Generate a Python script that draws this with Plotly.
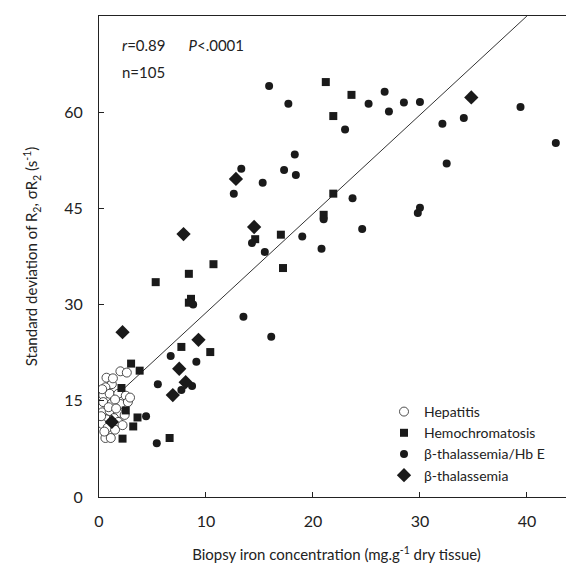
import plotly.graph_objects as go

# Hepatitis (open circles)
hep_x = [2.0, 2.6, 0.7, 1.2, 0.6, 0.4, 1.0, 1.8, 2.5, 0.4, 1.2, 2.0, 2.7, 0.3, 1.0, 1.8, 2.4,
         0.7, 1.4, 1.8, 0.3, 0.8, 1.5, 0.6, 1.1, 0.2, 1.5, 0.9, 2.2, 0.5, 1.3, 0.3, 1.6, 2.9]
hep_y = [19.6, 19.4, 18.6, 17.6, 17.1, 15.9, 16.1, 16.1, 15.8, 14.8, 14.6, 14.5, 14.8, 13.2, 13.4, 13.1, 12.8,
         12.1, 12.3, 11.7, 11.4, 10.8, 10.5, 9.2, 9.2, 12.6, 15.2, 14.0, 11.2, 10.2, 18.5, 16.8, 13.8, 15.5]

# Hemochromatosis (squares)
hemo_x = [21.2, 23.6, 21.9, 21.9, 21.0, 17.0, 14.6, 17.2, 10.7, 8.4, 5.3, 8.6, 8.4, 7.7, 10.4,
          3.8, 3.0, 2.1, 2.5, 3.6, 3.2, 2.2, 6.6]
hemo_y = [64.7, 62.7, 59.4, 47.3, 44.0, 40.9, 40.2, 35.7, 36.3, 34.8, 33.5, 30.9, 30.3, 23.4, 22.6,
          19.7, 20.8, 17.0, 13.5, 12.4, 11.0, 9.1, 9.2]

# beta-thalassemia/Hb E (filled circles)
hbe_x = [15.9, 17.7, 23.0, 18.3, 13.3, 17.3, 18.4, 15.3, 12.6, 25.2, 26.7, 27.1, 28.5, 30.0, 39.4,
         42.7, 32.1, 34.1, 32.5, 23.7, 30.0, 29.8, 24.6, 21.0, 14.3, 15.5, 19.0, 20.8, 13.5, 16.1,
         6.7, 9.1, 8.8, 8.7, 7.7, 5.5, 4.4, 5.4]
hbe_y = [64.1, 61.3, 57.3, 53.4, 51.2, 51.0, 50.2, 49.0, 47.3, 61.3, 63.2, 60.1, 61.5, 61.6, 60.8,
         55.2, 58.2, 59.1, 52.0, 46.6, 45.1, 44.3, 41.8, 43.3, 39.6, 38.2, 40.6, 38.7, 28.1, 25.0,
         22.0, 21.1, 30.0, 17.3, 16.7, 17.6, 12.6, 8.4]

# beta-thalassemia (diamonds)
bt_x = [12.8, 14.5, 34.8, 7.9, 9.3, 7.5, 2.2, 8.1, 6.9, 1.2]
bt_y = [49.6, 42.1, 62.3, 41.0, 24.5, 20.0, 25.7, 17.9, 15.9, 11.7]

# regression line end points
fit_x = [2.0, 40.0]
fit_y = [16.4, 75.0]

x_ticks = [0, 10, 20, 30, 40]
y_ticks = [0, 15, 30, 45, 60, 75]

fnt = "Lato, 'Liberation Sans', sans-serif"

fig = go.Figure()
fig.add_trace(go.Scatter(x=fit_x, y=fit_y, mode="lines", line=dict(color="#333", width=1),
                         showlegend=False, hoverinfo="skip"))
fig.add_trace(go.Scatter(x=hep_x, y=hep_y, mode="markers", name="Hepatitis",
                         marker=dict(symbol="circle", size=9, color="white",
                                     line=dict(color="#222", width=0.8))))
fig.add_trace(go.Scatter(x=hemo_x, y=hemo_y, mode="markers", name="Hemochromatosis",
                         marker=dict(symbol="square", size=8, color="#1a1a1a", line=dict(width=0))))
fig.add_trace(go.Scatter(x=hbe_x, y=hbe_y, mode="markers", name="β-thalassemia/Hb E",
                         marker=dict(symbol="circle", size=8, color="#1a1a1a", line=dict(width=0))))
fig.add_trace(go.Scatter(x=bt_x, y=bt_y, mode="markers", name="β-thalassemia",
                         marker=dict(symbol="diamond", size=11, color="#1a1a1a", line=dict(width=0))))

# the page body adds an 8px offset, so margins are set 8px smaller on left/top
fig.update_layout(
    width=574, height=571,
    margin=dict(l=91, r=8, t=8, b=82),
    plot_bgcolor="white", paper_bgcolor="white",
    font=dict(family=fnt, size=15, color="#222"),
    legend=dict(x=0.6, y=0.21, xanchor="left", yanchor="top", bgcolor="rgba(0,0,0,0)",
                font=dict(size=14), tracegroupgap=0, itemwidth=30),
    xaxis=dict(range=[0, 44.4], tickvals=x_ticks, ticks="inside", ticklen=5, tickcolor="#222",
               showline=True, linecolor="#222", linewidth=1.2, mirror=True, showgrid=False,
               zeroline=False, tickfont=dict(size=16), ticklabelstandoff=10, automargin=False,
               title=dict(text="Biopsy iron concentration (mg.g<sup>-1</sup> dry tissue)",
                          font=dict(size=15), standoff=20)),
    yaxis=dict(range=[0, 75], tickvals=y_ticks, ticks="inside", ticklen=5, tickcolor="#222",
               showline=True, linecolor="#222", linewidth=1.2, mirror=False, showgrid=False,
               zeroline=False, tickfont=dict(size=16), ticklabelstandoff=12, automargin=False,
               title=dict(text="Standard deviation of R<sub>2</sub>, σR<sub>2</sub> (s<sup>-1</sup>)",
                          font=dict(size=15), standoff=22)),
)

fig.add_annotation(x=0.045, y=0.94, xref="paper", yref="paper", xanchor="left", yanchor="middle",
                   text="<i>r</i>=0.89&nbsp;&nbsp;&nbsp;&nbsp;&nbsp;&nbsp;<i>P</i>&lt;.0001",
                   showarrow=False, font=dict(size=15))
fig.add_annotation(x=0.045, y=0.883, xref="paper", yref="paper", xanchor="left", yanchor="middle",
                   text="n=105", showarrow=False, font=dict(size=15))

fig.write_html("out.html")
